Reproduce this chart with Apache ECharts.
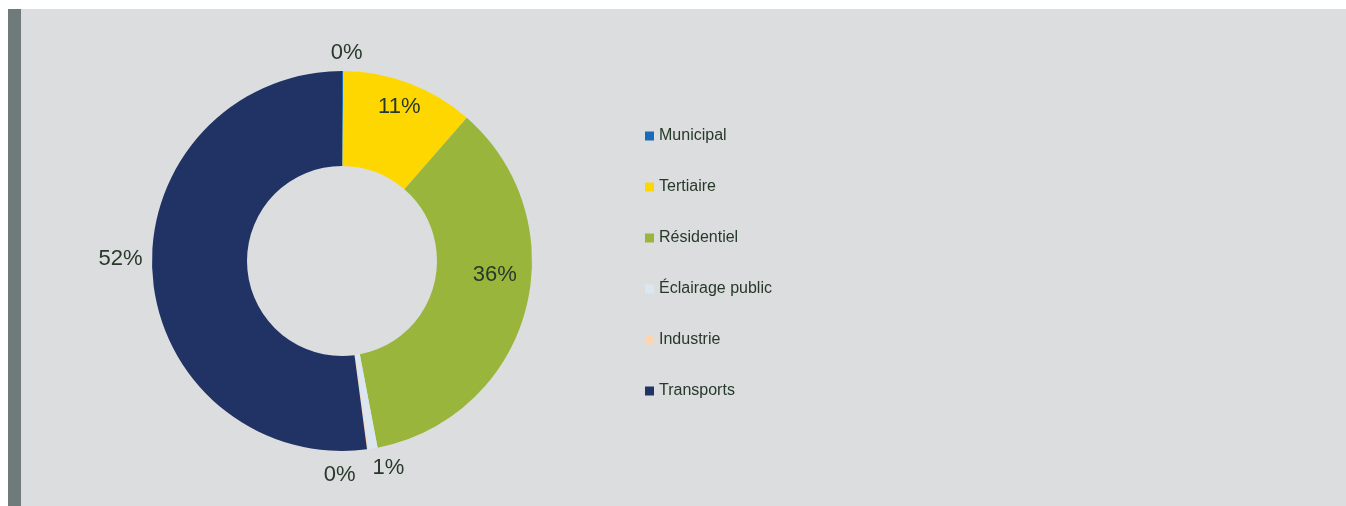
<!DOCTYPE html>
<html>
<head>
<meta charset="utf-8">
<script src="https://cdn.jsdelivr.net/npm/echarts@6/dist/echarts.min.js"></script>
<style>
  html, body { margin: 0; padding: 0; background: #ffffff; }
  .panel {
    position: absolute; left: 8px; top: 9px; width: 1325px; height: 497px;
    background: #dcdddf; border-left: 13px solid #6f7a7a;
  }
  #chartBox { position: absolute; left: 0; top: 0; width: 1346px; height: 506px; }
</style>
</head>
<body>
<div class="panel"></div>
<div id="chartBox"></div>
<script>
  // parts des secteurs (%)
  const categories = ['Municipal', 'Tertiaire', 'Résidentiel', 'Éclairage public', 'Industrie', 'Transports']
  const shares = [0.1, 11.3, 35.6, 0.8, 0.1, 52.1]
  const colors = ['#1a6bb8', '#ffd700', '#9ab53c', '#dce6f1', '#fcd5b4', '#203364']

  // placement des étiquettes (rayon + petit décalage)
  const labelRadius = [210, 165, 153, 211, 213, 222]
  const labelNudge = [[4, 2], [-1, 0], [5, -26], [12, -1], [-31, 3], [0, -17]]

  const cx = 342
  const cy = 261
  const total = shares.reduce((a, b) => a + b, 0)

  const midAngle = (idx) => {
    let before = 0
    for (let i = 0; i < idx; i++) before += shares[i]
    return ((before + shares[idx] / 2) / total) * Math.PI * 2
  }

  var myChart = echarts.init(document.getElementById('chartBox'))

  const chartOptions = {
    color: colors,
    legend: {
      orient: 'vertical',
      left: 645,
      top: 128,
      padding: 0,
      itemWidth: 9,
      itemHeight: 9,
      itemGap: 35,
      icon: 'rect',
      textStyle: { fontFamily: 'Liberation Sans, Arial', fontSize: 16, lineHeight: 16, color: '#27392a' },
      data: categories,
    },
    series: [
      {
        type: 'pie',
        center: [cx, cy],
        radius: [95, 190],
        startAngle: 90,
        clockwise: true,
        avoidLabelOverlap: false,
        itemStyle: { borderWidth: 0 },
        label: {
          show: true,
          position: 'inside',
          fontFamily: 'Liberation Sans, Arial',
          fontSize: 22,
          color: '#27392a',
          formatter: (p) => Math.round(p.percent) + '%',
        },
        labelLine: { show: false },
        labelLayout: (p) => {
          const a = midAngle(p.dataIndex)
          const r = labelRadius[p.dataIndex]
          const n = labelNudge[p.dataIndex]
          return {
            x: cx + r * Math.sin(a) + n[0],
            y: cy - r * Math.cos(a) + n[1],
            align: 'center',
            verticalAlign: 'middle',
          }
        },
        emphasis: { disabled: true },
        data: categories.map((name, i) => ({ name, value: shares[i] })),
      },
    ],
  }

  if (myChart) {
    myChart.setOption(chartOptions)
  }
</script>
</body>
</html>
